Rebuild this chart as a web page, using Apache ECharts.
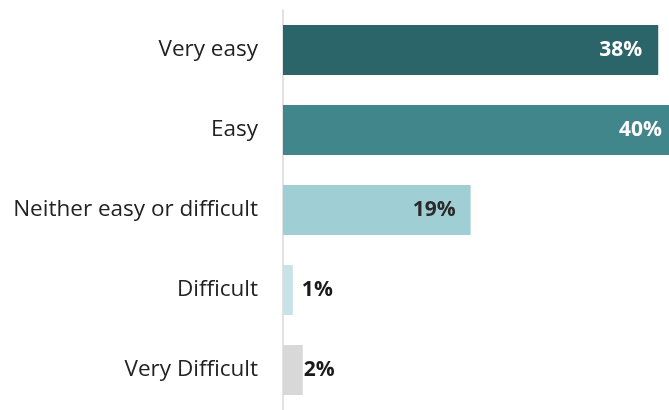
<!DOCTYPE html>
<html>
<head>
<meta charset="utf-8">
<script src="https://cdn.jsdelivr.net/npm/echarts@6/dist/echarts.min.js"></script>
<style>
  html, body { margin: 0; padding: 0; background: #fff; }
  #chart { width: 669px; height: 410px; }
</style>
</head>
<body>
<div id="chart"></div>
<script>
// Survey answers, top to bottom
const categories = ['Very easy', 'Easy', 'Neither easy or difficult', 'Difficult', 'Very Difficult'];
const values = [38, 40, 19, 1, 2];
const barColors = ['#2b6469', '#40868b', '#a0ced5', '#c8e3e8', '#d8d8d8'];
const labelColors = ['#ffffff', '#ffffff', '#2a2a2a', '#1a1a1a', '#1a1a1a'];
const labelInside = [true, true, true, false, false];
const labelGap = [16, 16, 15, 9, 1];

const chart = echarts.init(document.getElementById('chart'), null, { renderer: 'canvas' });

const data = values.map((v, i) => ({
  value: v,
  itemStyle: { color: barColors[i] },
  label: {
    position: labelInside[i] ? 'insideRight' : 'right',
    distance: labelGap[i],
    color: labelColors[i]
  }
}));

chart.setOption({
  animation: false,
  grid: { left: 283, right: 0, top: 10, bottom: 0, containLabel: false },
  // the axis stops just short of the widest bar, which runs off the right edge
  xAxis: {
    type: 'value',
    min: 0,
    max: 39.09,
    show: false
  },
  yAxis: {
    type: 'category',
    data: categories,
    inverse: true,
    axisLine: { show: true, lineStyle: { color: '#e2e2e2', width: 2 } },
    axisTick: { show: false },
    axisLabel: {
      margin: 25,
      fontFamily: '"Open Sans", sans-serif',
      fontSize: 22.5,
      color: '#222'
    }
  },
  series: [{
    type: 'bar',
    data: data,
    barWidth: 50,
    clip: false,
    label: {
      show: true,
      formatter: '{c}%',
      fontFamily: '"Open Sans", sans-serif',
      fontWeight: 'bold',
      fontSize: 21
    }
  }]
});
</script>
</body>
</html>
